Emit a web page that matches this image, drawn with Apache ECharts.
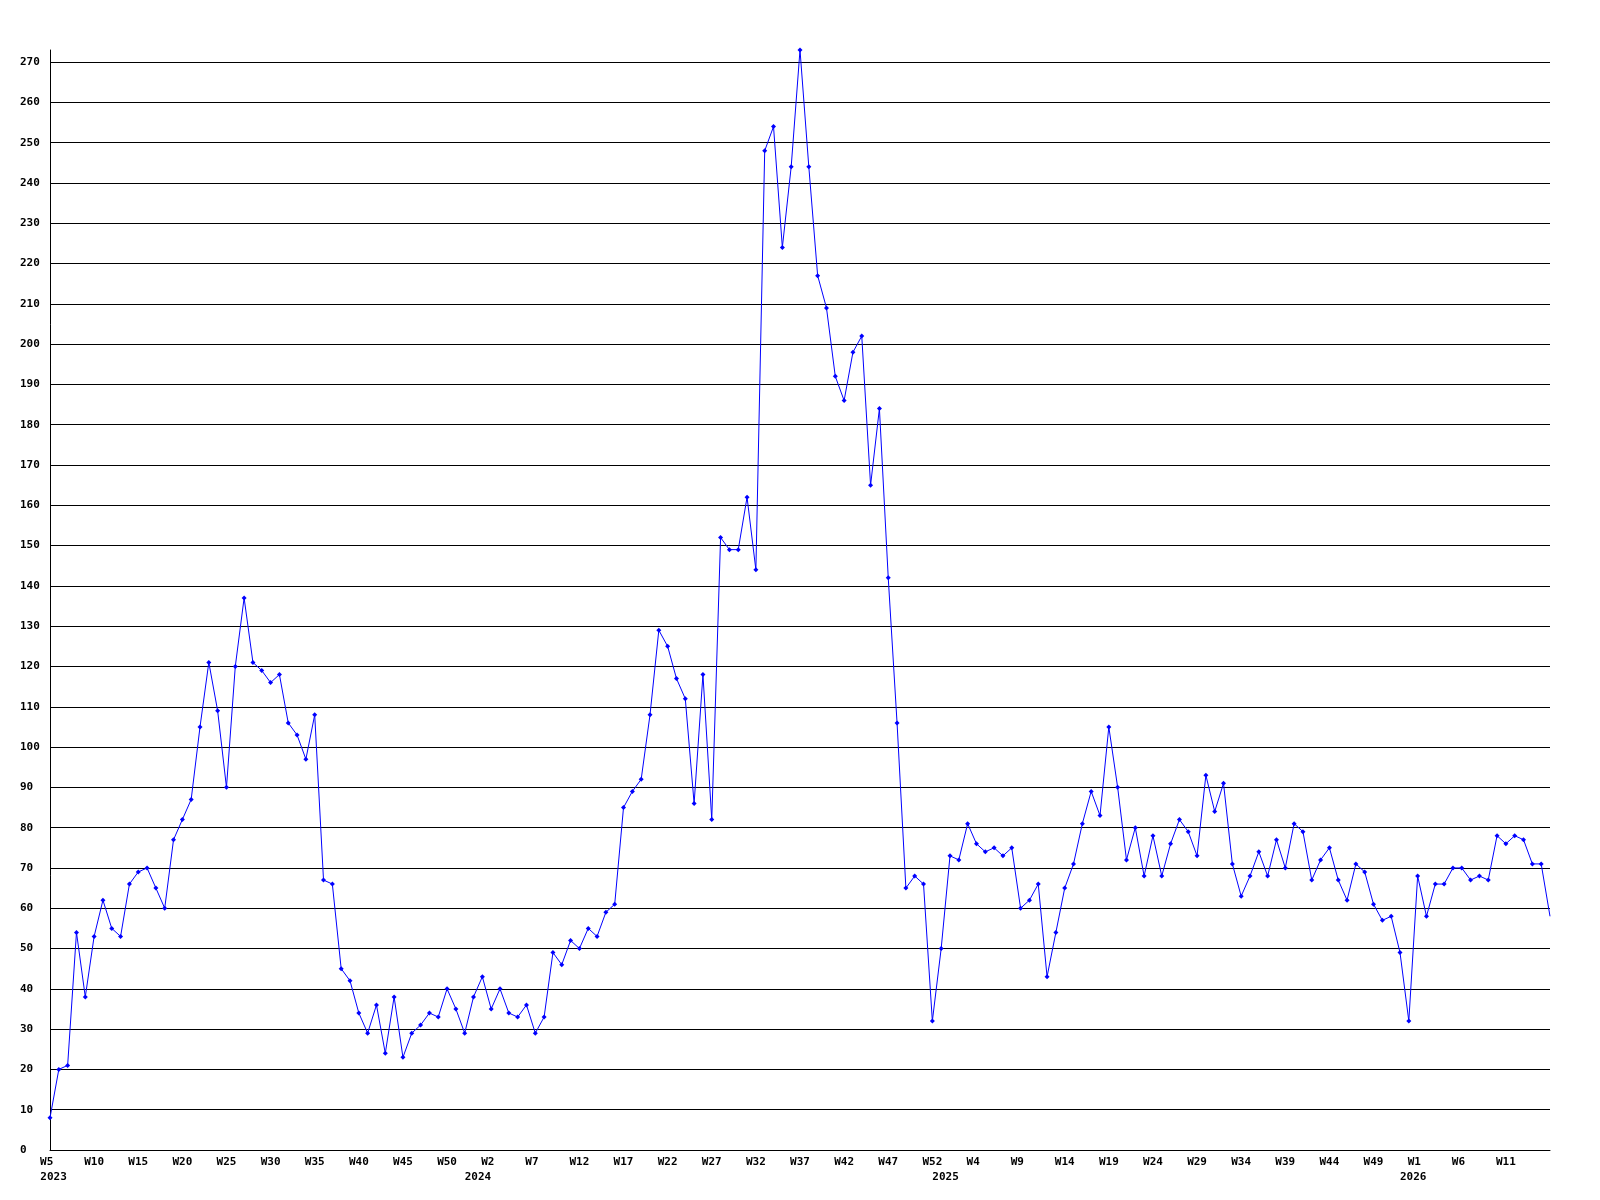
<!DOCTYPE html>
<html>
<head>
<meta charset="utf-8">
<script src="https://cdn.jsdelivr.net/npm/echarts@6/dist/echarts.min.js"></script>
<style>
html,body{margin:0;padding:0;background:#fff;}
#chart{width:1600px;height:1200px;}
</style>
</head>
<body>
<div id="chart"></div>
<script>
// ---- data ----
const years = [2023, 2024, 2025, 2026];
const firstWeek = [5, 1, 1, 1];
const lastWeek = [53, 53, 53, 16];

const values2023 = [8,20,21,54,38,53,62,55,53,66,69,70,65,60,77,82,87,105,121,109,90,120,137,121,119,116,118,106,103,97,108,67,66,45,42,34,29,36,24,38,23,29,31,34,33,40,35,29,38];
const values2024 = [43,35,40,34,33,36,29,33,49,46,52,50,55,53,59,61,85,89,92,108,129,125,117,112,86,118,82,152,149,149,162,144,248,254,224,244,273,244,217,209,192,186,198,202,165,184,142,106,65,68,66,32,50];
const values2025 = [73,72,81,76,74,75,73,75,60,62,66,43,54,65,71,81,89,83,105,90,72,80,68,78,68,76,82,79,73,93,84,91,71,63,68,74,68,77,70,81,79,67,72,75,67,62,71,69,61,57,58,49,32];
const values2026 = [68,58,66,66,70,70,67,68,67,78,76,78,77,71,71,58];

// ---- build categories / series ----
const yearValues = [values2023, values2024, values2025, values2026];
const categories = [];
const values = [];
const yearStartIndex = [];
years.forEach((y, i) => {
  yearStartIndex.push(categories.length);
  for (let w = firstWeek[i]; w <= lastWeek[i]; w++) {
    categories.push(y + '|W' + w);
  }
  yearValues[i].forEach(v => values.push(v));
});
const lastIndex = categories.length - 1;
const seriesData = values.map((v, i) => i === lastIndex ? {value: v, symbol: 'none'} : v);
// year labels sit on the boundary between years (first one just after the start)
const yearLabelPos = yearStartIndex.map(idx => idx === 0 ? 0.4 : idx - 0.5);

const FONT = 'DejaVu Sans Mono';
const chart = echarts.init(document.getElementById('chart'), null, {renderer: 'canvas'});
chart.setOption({
  backgroundColor: '#ffffff',
  animation: false,
  grid: {left: 50, right: 50, top: 50, bottom: 50, containLabel: false, outerBoundsMode: 'none'},
  xAxis: [
    {
      type: 'category',
      data: categories,
      boundaryGap: false,
      position: 'bottom',
      axisLine: {show: true, lineStyle: {color: '#000', width: 1}},
      axisTick: {show: false},
      splitLine: {show: false},
      axisLabel: {
        interval: (idx) => idx % 5 === 0 && idx !== lastIndex,
        margin: 7,
        color: '#000',
        fontFamily: FONT,
        fontWeight: 'bold',
        fontSize: 11,
        formatter: v => v.split('|')[1].padEnd(3, ' ')
      }
    },
    {
      type: 'value',
      min: 0,
      max: lastIndex,
      position: 'bottom',
      axisLine: {show: false},
      axisTick: {show: false},
      splitLine: {show: false},
      axisLabel: {
        customValues: yearLabelPos,
        showMinLabel: true,
        showMaxLabel: true,
        margin: 22,
        color: '#000',
        fontFamily: FONT,
        fontWeight: 'bold',
        fontSize: 11,
        formatter: v => {
          let k = 0;
          for (let i = 0; i < yearStartIndex.length; i++) {
            if (v >= yearStartIndex[i] - 0.6) k = i;
          }
          return String(years[k]);
        }
      }
    }
  ],
  yAxis: {
    type: 'value',
    min: 0,
    max: 'dataMax',
    interval: 10,
    axisLine: {show: true, lineStyle: {color: '#000', width: 1}},
    axisTick: {show: false},
    splitLine: {show: true, showMaxLine: false, lineStyle: {color: '#000', width: 1}},
    axisLabel: {
      align: 'left',
      margin: 30,
      showMaxLabel: false,
      color: '#000',
      fontFamily: FONT,
      fontWeight: 'bold',
      fontSize: 11
    }
  },
  series: [{
    type: 'line',
    xAxisIndex: 0,
    data: seriesData,
    symbol: 'diamond',
    symbolSize: 5,
    showSymbol: true,
    showAllSymbol: true,
    lineStyle: {color: '#0000ff', width: 1},
    itemStyle: {color: '#0000ff'},
    emphasis: {disabled: true}
  }]
});
</script>
</body>
</html>
